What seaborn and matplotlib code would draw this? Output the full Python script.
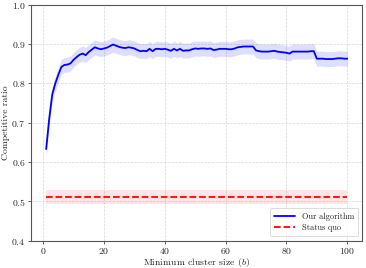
import numpy as np
import pandas as pd
import matplotlib
matplotlib.use('Agg')
import matplotlib.pyplot as plt
import seaborn as sns

# Minimum cluster size b = 1..100
cluster_size = list(range(1, 101))

# Competitive ratio of our algorithm (mean)
ours_mean = [
    0.633, 0.710, 0.772, 0.800, 0.822, 0.842, 0.847, 0.848, 0.851, 0.860,
    0.867, 0.873, 0.876, 0.872, 0.880, 0.886, 0.892, 0.889, 0.887, 0.889,
    0.891, 0.895, 0.899, 0.896, 0.893, 0.891, 0.890, 0.892, 0.891, 0.889,
    0.885, 0.882, 0.883, 0.882, 0.888, 0.882, 0.888, 0.888, 0.887, 0.888,
    0.886, 0.883, 0.888, 0.884, 0.888, 0.883, 0.884, 0.884, 0.887, 0.889,
    0.888, 0.889, 0.889, 0.888, 0.889, 0.885, 0.886, 0.888, 0.888, 0.888,
    0.887, 0.887, 0.889, 0.892, 0.893, 0.894, 0.894, 0.894, 0.894, 0.884,
    0.882, 0.881, 0.881, 0.881, 0.882, 0.883, 0.881, 0.880, 0.879, 0.878,
    0.876, 0.881, 0.881, 0.881, 0.881, 0.881, 0.881, 0.882, 0.882, 0.863,
    0.863, 0.863, 0.862, 0.862, 0.862, 0.863, 0.864, 0.864, 0.863, 0.863,
]
ours_spread = 0.019

# Status quo baseline
quo_mean = [0.512] * 100
quo_spread = 0.018

df = pd.DataFrame({'b': cluster_size, 'ours': ours_mean, 'quo': quo_mean})

sns.set_style('whitegrid')
plt.rcParams['font.family'] = ['cmr10', 'DejaVu Serif']
plt.rcParams['mathtext.fontset'] = 'cm'
plt.rcParams['axes.formatter.use_mathtext'] = True

fig, ax = plt.subplots(figsize=(3.66, 2.68), dpi=100)
fig.subplots_adjust(left=0.085, right=0.99, top=0.982, bottom=0.102)

sns.lineplot(data=df, x='b', y='ours', color='#0000ff', linewidth=1.3,
             label='Our algorithm', ax=ax)
ax.fill_between(df['b'], df['ours'] - ours_spread, df['ours'] + ours_spread,
                color='#0000ff', alpha=0.13, linewidth=0)
sns.lineplot(data=df, x='b', y='quo', color='red', linewidth=1.3,
             linestyle='--', label='Status quo', ax=ax)
ax.fill_between(df['b'], df['quo'] - quo_spread, df['quo'] + quo_spread,
                color='red', alpha=0.1, linewidth=0)

ax.set_ylim(0.4, 1.0)
ax.set_xlabel('Minimum cluster size ($b$)', fontsize=7, labelpad=0)
ax.set_ylabel('Competitive ratio', fontsize=7, labelpad=1)
ax.tick_params(labelsize=7, length=2.5, width=0.6, color='#444444', pad=1.5,
               bottom=True, left=True)
ax.grid(True, linestyle='--', linewidth=0.5, color='#d8d8d8')
for s in ax.spines.values():
    s.set_color('#555555')
    s.set_linewidth(0.8)

leg = ax.legend(loc='lower right', fontsize=6, frameon=True, handlelength=2.5,
                borderpad=0.5, labelspacing=0.4)
leg.get_frame().set_edgecolor('#cccccc')
leg.get_frame().set_linewidth(0.6)

plt.savefig('out.png', dpi=100)
